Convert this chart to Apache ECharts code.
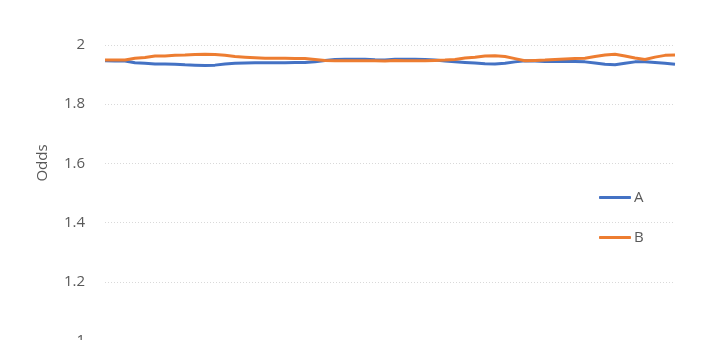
<!DOCTYPE html>
<html>
<head>
<meta charset="utf-8">
<script src="https://cdn.jsdelivr.net/npm/echarts@6/dist/echarts.min.js"></script>
<style>html,body{margin:0;padding:0;background:#fff;}#c{width:720px;height:340px;}</style>
</head>
<body>
<div id="c"></div>
<script>
var seriesA = [1.947,1.946,1.946,1.940,1.938,1.936,1.936,1.935,1.933,1.932,1.931,1.932,1.936,1.938,1.939,1.940,1.940,1.940,1.940,1.941,1.941,1.943,1.948,1.951,1.952,1.952,1.952,1.950,1.949,1.952,1.952,1.952,1.951,1.949,1.946,1.943,1.941,1.939,1.937,1.936,1.938,1.943,1.947,1.946,1.944,1.944,1.944,1.944,1.943,1.939,1.935,1.933,1.938,1.943,1.943,1.941,1.938,1.935];
var seriesB = [1.949,1.949,1.949,1.955,1.958,1.963,1.963,1.965,1.966,1.968,1.969,1.968,1.965,1.961,1.959,1.957,1.955,1.955,1.955,1.954,1.954,1.951,1.948,1.947,1.947,1.947,1.947,1.947,1.946,1.948,1.947,1.947,1.947,1.948,1.949,1.951,1.956,1.959,1.963,1.964,1.961,1.954,1.947,1.948,1.949,1.951,1.953,1.954,1.955,1.961,1.966,1.969,1.963,1.956,1.951,1.959,1.965,1.966];
var categories = seriesA.map(function(_, i){ return String(i + 1); });
var yTicks = { min: 1, max: 2, interval: 0.2 };

var chart = echarts.init(document.getElementById('c'), null, {renderer: 'canvas'});
chart.setOption({
  animation: false,
  backgroundColor: '#ffffff',
  grid: { left: 105, top: 45, width: 570, height: 296, containLabel: false, outerBoundsMode: 'none' },
  xAxis: {
    type: 'category', data: categories, boundaryGap: false,
    axisLine: { show: false }, axisTick: { show: false }, axisLabel: { show: false },
    splitLine: { show: false }
  },
  yAxis: {
    type: 'value', min: yTicks.min, max: yTicks.max, interval: yTicks.interval,
    axisLine: { show: false }, axisTick: { show: false },
    axisLabel: { color: '#595959', fontSize: 15, fontFamily: 'Open Sans', margin: 20,
      formatter: function(v){ return String(Math.round(v * 10) / 10); } },
    splitLine: { lineStyle: { color: '#d9d9d9', type: [1, 2], width: 1 } }
  },
  legend: {
    orient: 'vertical', left: 594, top: 185, itemGap: 25,
    itemWidth: 32, itemHeight: 3, icon: 'roundRect',
    textStyle: { color: '#595959', fontSize: 15, fontFamily: 'Open Sans', padding: [0,0,0,-2] },
    data: ['A', 'B']
  },
  graphic: [{
    type: 'text', x: 43, y: 163, rotation: Math.PI / 2,
    style: { text: 'Odds', fill: '#595959', font: '15px "Open Sans"', align: 'center', verticalAlign: 'middle' }
  }],
  series: [
    { name: 'A', type: 'line', data: seriesA, symbol: 'none', smooth: false,
      lineStyle: { color: '#4472C4', width: 3 }, itemStyle: { color: '#4472C4' } },
    { name: 'B', type: 'line', data: seriesB, symbol: 'none', smooth: false,
      lineStyle: { color: '#ED7D31', width: 3 }, itemStyle: { color: '#ED7D31' } }
  ]
});
</script>
</body>
</html>
